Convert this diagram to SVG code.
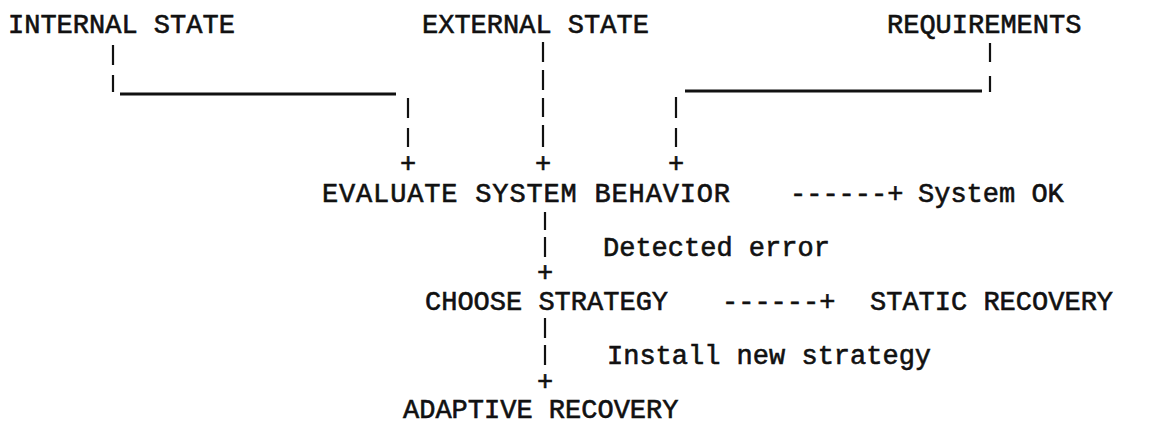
<svg xmlns="http://www.w3.org/2000/svg" width="1153" height="438" viewBox="0 0 1153 438">
<style>
text{font-family:"Liberation Mono","DejaVu Sans Mono",monospace;font-size:27px;font-weight:normal;fill:#111;stroke:#111;stroke-width:0.6}
.c{text-anchor:middle}
line{stroke:#111;stroke-width:2.2;stroke-linecap:butt}
.h{stroke-width:2.8}
</style>
<rect width="1153" height="438" fill="#fff"/>
<g id="internal-state"><text x="8" y="33">INTERNAL STATE</text></g>
<g id="external-state"><text x="422" y="33">EXTERNAL STATE</text></g>
<g id="requirements"><text x="887" y="33">REQUIREMENTS</text></g>
<g id="evaluate"><text x="322" y="202" textLength="408">EVALUATE SYSTEM BEHAVIOR</text></g>
<g id="system-ok"><text x="918" y="202">System OK</text></g>
<g id="choose"><text x="425" y="310">CHOOSE STRATEGY</text></g>
<g id="static-recovery"><text x="870" y="310">STATIC RECOVERY</text></g>
<g id="adaptive-recovery"><text x="403" y="418">ADAPTIVE RECOVERY</text></g>
<g id="connectors">
<line x1="113" y1="45" x2="113" y2="65"/>
<line x1="113" y1="75" x2="113" y2="92"/>
<line class="h" x1="120" y1="94" x2="396" y2="94"/>
<line x1="408" y1="98" x2="408" y2="118"/>
<line x1="408" y1="128" x2="408" y2="147"/>
<text class="c" x="408" y="172">+</text>
<line x1="543" y1="42" x2="543" y2="62"/>
<line x1="543" y1="70" x2="543" y2="90"/>
<line x1="543" y1="98" x2="543" y2="117"/>
<line x1="543" y1="125" x2="543" y2="147"/>
<text class="c" x="543" y="172">+</text>
<line x1="990" y1="43" x2="990" y2="62"/>
<line x1="990" y1="76" x2="990" y2="92"/>
<line class="h" x1="685" y1="91" x2="982" y2="91"/>
<line x1="676" y1="97" x2="676" y2="118"/>
<line x1="676" y1="128" x2="676" y2="147"/>
<text class="c" x="676" y="172">+</text>
<text x="790" y="202">------+</text>
<line x1="545" y1="212" x2="545" y2="230"/>
<line x1="545" y1="237" x2="545" y2="257"/>
<text x="603" y="256">Detected error</text>
<text class="c" x="545" y="281">+</text>
<text x="722" y="310">------+</text>
<line x1="545" y1="318" x2="545" y2="338"/>
<line x1="545" y1="345" x2="545" y2="365"/>
<text x="607" y="364">Install new strategy</text>
<text class="c" x="545" y="390">+</text>
</g>
</svg>
